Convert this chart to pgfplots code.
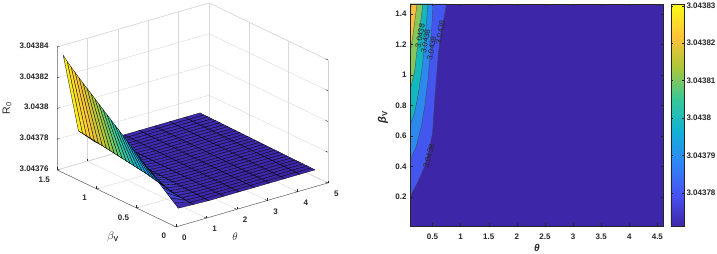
\documentclass[border=0pt]{standalone}
\usepackage{pgfplots}
\usepackage{fontspec}
\setmainfont{Liberation Sans}
\pgfplotsset{compat=1.18}
% z and colour values are stored as (R0 - 3.04376)*1e5: TeX's arithmetic cannot resolve them otherwise
\definecolor{axc}{gray}{0.15}
\definecolor{band0}{rgb}{0.2422,0.1504,0.6603}
\definecolor{band1}{RGB}{68,86,240}
\definecolor{band2}{RGB}{45,137,238}
\definecolor{band3}{RGB}{18,184,190}
\definecolor{band4}{RGB}{132,200,92}
\definecolor{band5}{RGB}{253,190,60}
\definecolor{band6}{RGB}{249,251,20}
\pgfplotsset{
  colormap={parula}{rgb=(.2422,.1504,.6603) rgb=(.2810,.3228,.9579) rgb=(.1786,.5289,.9682) rgb=(.0689,.6948,.8394) rgb=(.2161,.7843,.5923) rgb=(.6720,.7793,.2227) rgb=(.9970,.7659,.2199) rgb=(.9769,.9839,.0805)},
  colormap name=parula,
  every axis/.append style={
    axis line style={axc,line width=.4pt},
    tick style={axc,line width=.4pt},
    tick label style={font=\fontsize{8}{9}\selectfont\bfseries,text=axc},
  },
}
\begin{document}
\begin{tikzpicture}
\useasboundingbox (0,0) rectangle (717pt,254pt);
\begin{axis}[
  at={(176pt,27pt)},anchor=origin,
  x={(30.4pt,8.8pt)},y={(-79.3pt,38pt)},z={(0pt,15.375pt)},
  xmin=0,xmax=5,ymin=0,ymax=1.5,zmin=0,zmax=8,
  xtick={0,1,2,3,4,5},xticklabels={0,1,2,3,4,5},
  ytick={0,0.5,1,1.5},yticklabels={0,0.5,1,1.5},
  ztick={0,2,4,6,8},zticklabels={3.04376,3.04378,3.0438,3.04382,3.04384},
  grid=major,grid style={gray!30,line width=.4pt},
  axis line style={gray!35,line width=.4pt},
  xtick pos=left,ytick pos=left,ztick pos=left,
  xticklabel style={xshift=4pt,yshift=-4pt},
  yticklabel style={xshift=-7pt,yshift=-2pt},
  zticklabel style={xshift=-5pt},
  tick align=inside,major tick length=2.5pt,
  point meta min=1.06,point meta max=7.5,
]
\addplot3[axc,line width=.45pt,forget plot] coordinates {(0,1.5,8)(0,1.5,0)(0,0,0)(5,0,0)};
\addplot3[surf,shader=flat corner,draw=black,line width=.3pt,z buffer=sort,mesh/rows=30,mesh/cols=10] coordinates {
(.1,.01,1.14)(.6,.01,1.10)(1.1,.01,1.06)(1.6,.01,1.06)(2.1,.01,1.06)(2.6,.01,1.06)(3.1,.01,1.06)(3.6,.01,1.06)(4.1,.01,1.06)(4.6,.01,1.06)
(.1,.06,1.36)(.6,.06,1.11)(1.1,.06,1.07)(1.6,.06,1.07)(2.1,.06,1.06)(2.6,.06,1.06)(3.1,.06,1.06)(3.6,.06,1.06)(4.1,.06,1.06)(4.6,.06,1.06)
(.1,.11,1.57)(.6,.11,1.13)(1.1,.11,1.09)(1.6,.11,1.07)(2.1,.11,1.07)(2.6,.11,1.07)(3.1,.11,1.07)(3.6,.11,1.07)(4.1,.11,1.07)(4.6,.11,1.07)
(.1,.16,1.79)(.6,.16,1.16)(1.1,.16,1.10)(1.6,.16,1.08)(2.1,.16,1.07)(2.6,.16,1.07)(3.1,.16,1.07)(3.6,.16,1.07)(4.1,.16,1.07)(4.6,.16,1.07)
(.1,.21,2.00)(.6,.21,1.19)(1.1,.21,1.11)(1.6,.21,1.08)(2.1,.21,1.08)(2.6,.21,1.08)(3.1,.21,1.08)(3.6,.21,1.08)(4.1,.21,1.08)(4.6,.21,1.08)
(.1,.26,2.22)(.6,.26,1.23)(1.1,.26,1.12)(1.6,.26,1.09)(2.1,.26,1.08)(2.6,.26,1.08)(3.1,.26,1.08)(3.6,.26,1.08)(4.1,.26,1.08)(4.6,.26,1.08)
(.1,.31,2.43)(.6,.31,1.27)(1.1,.31,1.13)(1.6,.31,1.09)(2.1,.31,1.08)(2.6,.31,1.08)(3.1,.31,1.08)(3.6,.31,1.08)(4.1,.31,1.08)(4.6,.31,1.08)
(.1,.36,2.65)(.6,.36,1.32)(1.1,.36,1.14)(1.6,.36,1.10)(2.1,.36,1.09)(2.6,.36,1.09)(3.1,.36,1.09)(3.6,.36,1.09)(4.1,.36,1.09)(4.6,.36,1.09)
(.1,.41,2.86)(.6,.41,1.40)(1.1,.41,1.15)(1.6,.41,1.10)(2.1,.41,1.09)(2.6,.41,1.09)(3.1,.41,1.09)(3.6,.41,1.09)(4.1,.41,1.09)(4.6,.41,1.09)
(.1,.46,3.08)(.6,.46,1.46)(1.1,.46,1.16)(1.6,.46,1.11)(2.1,.46,1.10)(2.6,.46,1.10)(3.1,.46,1.10)(3.6,.46,1.10)(4.1,.46,1.10)(4.6,.46,1.10)
(.1,.51,3.29)(.6,.51,1.52)(1.1,.51,1.17)(1.6,.51,1.11)(2.1,.51,1.10)(2.6,.51,1.10)(3.1,.51,1.10)(3.6,.51,1.10)(4.1,.51,1.10)(4.6,.51,1.10)
(.1,.56,3.51)(.6,.56,1.58)(1.1,.56,1.18)(1.6,.56,1.12)(2.1,.56,1.10)(2.6,.56,1.10)(3.1,.56,1.10)(3.6,.56,1.10)(4.1,.56,1.10)(4.6,.56,1.10)
(.1,.61,3.72)(.6,.61,1.64)(1.1,.61,1.19)(1.6,.61,1.12)(2.1,.61,1.11)(2.6,.61,1.11)(3.1,.61,1.11)(3.6,.61,1.11)(4.1,.61,1.11)(4.6,.61,1.11)
(.1,.66,3.94)(.6,.66,1.68)(1.1,.66,1.20)(1.6,.66,1.13)(2.1,.66,1.11)(2.6,.66,1.11)(3.1,.66,1.11)(3.6,.66,1.11)(4.1,.66,1.11)(4.6,.66,1.11)
(.1,.71,4.15)(.6,.71,1.72)(1.1,.71,1.21)(1.6,.71,1.13)(2.1,.71,1.12)(2.6,.71,1.12)(3.1,.71,1.12)(3.6,.71,1.12)(4.1,.71,1.12)(4.6,.71,1.12)
(.1,.76,4.37)(.6,.76,1.76)(1.1,.76,1.22)(1.6,.76,1.14)(2.1,.76,1.12)(2.6,.76,1.12)(3.1,.76,1.12)(3.6,.76,1.12)(4.1,.76,1.12)(4.6,.76,1.12)
(.1,.81,4.58)(.6,.81,1.80)(1.1,.81,1.23)(1.6,.81,1.14)(2.1,.81,1.12)(2.6,.81,1.12)(3.1,.81,1.12)(3.6,.81,1.12)(4.1,.81,1.12)(4.6,.81,1.12)
(.1,.86,4.80)(.6,.86,1.84)(1.1,.86,1.24)(1.6,.86,1.15)(2.1,.86,1.13)(2.6,.86,1.13)(3.1,.86,1.13)(3.6,.86,1.13)(4.1,.86,1.13)(4.6,.86,1.13)
(.1,.91,5.01)(.6,.91,1.88)(1.1,.91,1.25)(1.6,.91,1.15)(2.1,.91,1.13)(2.6,.91,1.13)(3.1,.91,1.13)(3.6,.91,1.13)(4.1,.91,1.13)(4.6,.91,1.13)
(.1,.96,5.23)(.6,.96,1.92)(1.1,.96,1.26)(1.6,.96,1.16)(2.1,.96,1.14)(2.6,.96,1.14)(3.1,.96,1.14)(3.6,.96,1.14)(4.1,.96,1.14)(4.6,.96,1.14)
(.1,1.01,5.44)(.6,1.01,1.96)(1.1,1.01,1.27)(1.6,1.01,1.16)(2.1,1.01,1.14)(2.6,1.01,1.14)(3.1,1.01,1.14)(3.6,1.01,1.14)(4.1,1.01,1.14)(4.6,1.01,1.14)
(.1,1.06,5.66)(.6,1.06,2.00)(1.1,1.06,1.28)(1.6,1.06,1.17)(2.1,1.06,1.14)(2.6,1.06,1.14)(3.1,1.06,1.14)(3.6,1.06,1.14)(4.1,1.06,1.14)(4.6,1.06,1.14)
(.1,1.11,5.87)(.6,1.11,2.04)(1.1,1.11,1.29)(1.6,1.11,1.17)(2.1,1.11,1.15)(2.6,1.11,1.15)(3.1,1.11,1.15)(3.6,1.11,1.15)(4.1,1.11,1.15)(4.6,1.11,1.15)
(.1,1.16,6.09)(.6,1.16,2.08)(1.1,1.16,1.30)(1.6,1.16,1.18)(2.1,1.16,1.15)(2.6,1.16,1.15)(3.1,1.16,1.15)(3.6,1.16,1.15)(4.1,1.16,1.15)(4.6,1.16,1.15)
(.1,1.21,6.30)(.6,1.21,2.12)(1.1,1.21,1.31)(1.6,1.21,1.18)(2.1,1.21,1.16)(2.6,1.21,1.16)(3.1,1.21,1.16)(3.6,1.21,1.16)(4.1,1.21,1.16)(4.6,1.21,1.16)
(.1,1.26,6.52)(.6,1.26,2.16)(1.1,1.26,1.32)(1.6,1.26,1.19)(2.1,1.26,1.16)(2.6,1.26,1.16)(3.1,1.26,1.16)(3.6,1.26,1.16)(4.1,1.26,1.16)(4.6,1.26,1.16)
(.1,1.31,6.75)(.6,1.31,2.20)(1.1,1.31,1.33)(1.6,1.31,1.19)(2.1,1.31,1.16)(2.6,1.31,1.16)(3.1,1.31,1.16)(3.6,1.31,1.16)(4.1,1.31,1.16)(4.6,1.31,1.16)
(.1,1.36,6.98)(.6,1.36,2.24)(1.1,1.36,1.34)(1.6,1.36,1.20)(2.1,1.36,1.17)(2.6,1.36,1.17)(3.1,1.36,1.17)(3.6,1.36,1.17)(4.1,1.36,1.17)(4.6,1.36,1.17)
(.1,1.41,7.22)(.6,1.41,2.27)(1.1,1.41,1.35)(1.6,1.41,1.20)(2.1,1.41,1.17)(2.6,1.41,1.17)(3.1,1.41,1.17)(3.6,1.41,1.17)(4.1,1.41,1.17)(4.6,1.41,1.17)
(.1,1.46,7.50)(.6,1.46,2.30)(1.1,1.46,1.36)(1.6,1.46,1.21)(2.1,1.46,1.18)(2.6,1.46,1.18)(3.1,1.46,1.18)(3.6,1.46,1.18)(4.1,1.46,1.18)(4.6,1.46,1.18)
};
\end{axis}
\node[rotate=90,text=axc,font=\fontsize{10.5}{11}\selectfont] at (7pt,146pt) {R\textsubscript{0}};
\node[text=axc,font=\fontsize{11}{12}\selectfont] at (113pt,17pt) {$\beta_{\mbox{\scriptsize\bfseries V}}$};
\node[text=axc,font=\fontsize{11}{12}\selectfont] at (235pt,17pt) {$\theta$};

\begin{axis}[
  at={(410pt,28pt)},anchor=south west,
  width=253pt,height=222pt,scale only axis,
  xmin=0.1,xmax=4.6,ymin=0.01,ymax=1.465,
  xtick={0.5,1,1.5,2,2.5,3,3.5,4,4.5},xticklabels={0.5,1,1.5,2,2.5,3,3.5,4,4.5},
  ytick={0.2,0.4,0.6,0.8,1,1.2,1.4},yticklabels={0.2,0.4,0.6,0.8,1,1.2,1.4},
  xticklabel style={yshift=-4pt},
  tick align=inside,major tick length=2.5pt,
  axis on top,
  point meta min=1.11,point meta max=7.05,
  colorbar,
  colorbar style={
    at={(1.0316,1)},anchor=north west,width=13pt,
    ytick={2,3,4,5,6,7},
    yticklabels={3.04378,3.04379,3.0438,3.04381,3.04382,3.04383},
    major tick length=2pt,
    yticklabel style={font=\fontsize{8}{9}\selectfont\bfseries,text=axc,xshift=-1pt},
  },
]
\addplot[fill=band0,draw=none,forget plot] coordinates {(.1,.01)(4.6,.01)(4.6,1.465)(.1,1.465)} -- cycle;
\addplot[fill=band1,draw=none,forget plot] coordinates {(.1,.2)(.24,.30)(.36,.40)(.44,.51)(.5,.62)(.54,.84)(.585,1.06)(.63,1.23)(.75,1.465)(.1,1.465)} -- cycle;
\addplot[fill=band2,draw=none,forget plot] coordinates {(.1,.44)(.21,.53)(.30,.66)(.36,.79)(.42,.97)(.465,1.16)(.51,1.465)(.1,1.465)} -- cycle;
\addplot[fill=band3,draw=none,forget plot] coordinates {(.1,.67)(.18,.75)(.25,.88)(.32,1.06)(.375,1.27)(.42,1.465)(.1,1.465)} -- cycle;
\addplot[fill=band4,draw=none,forget plot] coordinates {(.1,.9)(.18,1.02)(.24,1.21)(.33,1.465)(.1,1.465)} -- cycle;
\addplot[fill=band5,draw=none,forget plot] coordinates {(.1,1.14)(.155,1.27)(.225,1.465)(.1,1.465)} -- cycle;
\addplot[fill=band6,draw=none,forget plot] coordinates {(.1,1.40)(.125,1.465)(.1,1.465)} -- cycle;
\addplot[black!75,line width=.3pt,forget plot] coordinates {(.1,.2)(.24,.30)(.36,.40)(.44,.51)(.5,.62)(.54,.84)(.585,1.06)(.63,1.23)(.75,1.465)};
\addplot[black!75,line width=.3pt,forget plot] coordinates {(.1,.44)(.21,.53)(.30,.66)(.36,.79)(.42,.97)(.465,1.16)(.51,1.465)};
\addplot[black!75,line width=.3pt,forget plot] coordinates {(.1,.67)(.18,.75)(.25,.88)(.32,1.06)(.375,1.27)(.42,1.465)};
\addplot[black!75,line width=.3pt,forget plot] coordinates {(.1,.9)(.18,1.02)(.24,1.21)(.33,1.465)};
\addplot[black!75,line width=.3pt,forget plot] coordinates {(.1,1.14)(.155,1.27)(.225,1.465)};
\addplot[black!75,line width=.3pt,forget plot] coordinates {(.1,1.40)(.125,1.465)};
\node[rotate=80,font=\fontsize{8}{9}\selectfont,text=black!85] at (axis cs:.28,1.256) {3.0438};
\node[rotate=80,font=\fontsize{8}{9}\selectfont,text=black!85] at (axis cs:.375,1.22) {3.0438};
\node[rotate=80,font=\fontsize{8}{9}\selectfont,text=black!85] at (axis cs:.483,1.175) {3.0438};
\node[rotate=80,font=\fontsize{8}{9}\selectfont,text=black!85] at (axis cs:.64,1.28) {3.0438};
\node[rotate=75,font=\fontsize{8}{9}\selectfont,text=black!85] at (axis cs:.435,.466) {3.0438};
\end{axis}
\node[text=axc,font=\fontsize{10}{11}\selectfont\bfseries\itshape] at (537pt,6pt) {θ};
\node[rotate=90,text=axc,font=\fontsize{11}{12}\selectfont\bfseries] at (383pt,137pt) {{\itshape β}\textsubscript{V}};
\end{tikzpicture}
\end{document}
